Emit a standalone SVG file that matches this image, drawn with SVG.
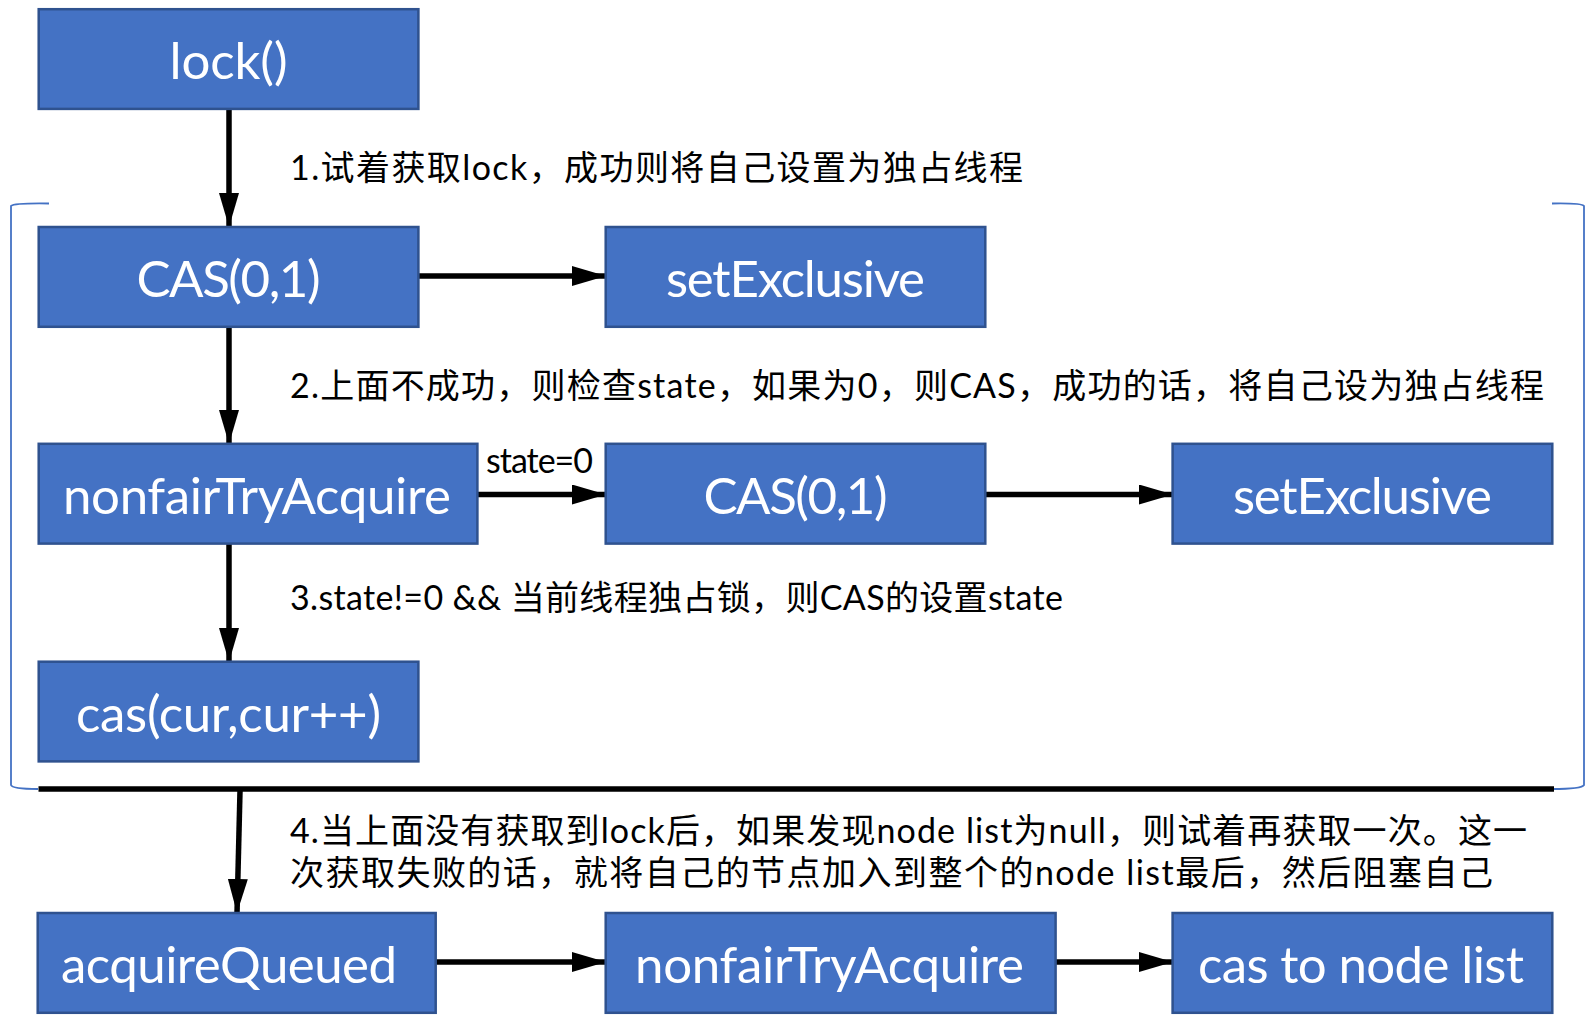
<svg xmlns="http://www.w3.org/2000/svg" width="1596" height="1028" viewBox="0 0 1596 1028">
<style>
.box{fill:#4472C4;stroke:#2F528F;stroke-width:2.5}
.nt{fill:#fff;font-family:Lato,"Noto Sans CJK SC",sans-serif;font-size:51px;text-anchor:middle;dominant-baseline:central}
.lb{fill:#000;font-family:Lato,"Noto Sans CJK SC",sans-serif;font-size:34px}
.cn{stroke:#000;stroke-width:5.5;fill:none}
.br{stroke:#4472C4;stroke-width:1.8;fill:none}
</style>
<defs>
<marker id="ah" markerUnits="userSpaceOnUse" markerWidth="34" markerHeight="20" viewBox="0 0 34 20" refX="34" refY="10" orient="auto">
<path d="M0,0 L34,10 L0,20 z" fill="#000"/>
</marker>
</defs>
<g id="bracket">
<path class="br" d="M49,203.5 Q14,203 11,206 L11,785 Q12,789 38,789"/>
<path class="br" d="M1552,203.5 Q1582,203 1584,206 L1584,785 Q1582,789 1552,789"/>
</g>
<g id="connectors">
<line class="cn" x1="229" y1="109" x2="229" y2="227" marker-end="url(#ah)"/>
<line class="cn" x1="418" y1="276" x2="606" y2="276" marker-end="url(#ah)"/>
<line class="cn" x1="229" y1="327" x2="229" y2="444" marker-end="url(#ah)"/>
<line class="cn" x1="477" y1="494.5" x2="606" y2="494.5" marker-end="url(#ah)"/>
<line class="cn" x1="985" y1="494.5" x2="1173" y2="494.5" marker-end="url(#ah)"/>
<line class="cn" x1="229" y1="544" x2="229" y2="662" marker-end="url(#ah)"/>
<line class="cn" x1="38.5" y1="789" x2="1554" y2="789"/>
<line class="cn" x1="240" y1="791" x2="237" y2="913" marker-end="url(#ah)"/>
<line class="cn" x1="436" y1="962" x2="606" y2="962" marker-end="url(#ah)"/>
<line class="cn" x1="1056" y1="962" x2="1173" y2="962" marker-end="url(#ah)"/>
<text class="lb" x="486" y="473" font-size="31" textLength="107">state=0</text>
</g>
<g id="labels">
<text class="lb" x="290" y="180" textLength="733">1.试着获取lock，成功则将自己设置为独占线程</text>
<text class="lb" x="290" y="398" textLength="1254">2.上面不成功，则检查state，如果为0，则CAS，成功的话，将自己设为独占线程</text>
<text class="lb" x="290" y="610" textLength="773">3.state!=0 &amp;&amp; 当前线程独占锁，则CAS的设置state</text>
<text class="lb" x="290" y="843" textLength="1237">4.当上面没有获取到lock后，如果发现node list为null，则试着再获取一次。这一</text>
<text class="lb" x="290" y="885" textLength="1203">次获取失败的话，就将自己的节点加入到整个的node list最后，然后阻塞自己</text>
</g>
<g id="n-lock"><rect class="box" x="38.7" y="9.2" width="379.7" height="99.7"/><text class="nt" x="228.5" y="59" textLength="118">lock()</text></g>
<g id="n-cas1"><rect class="box" x="38.7" y="227" width="379.7" height="99.8"/><text class="nt" x="228.5" y="277" textLength="184">CAS(0,1)</text></g>
<g id="n-setex1"><rect class="box" x="605.7" y="227" width="379.6" height="99.8"/><text class="nt" x="795.5" y="277" textLength="259">setExclusive</text></g>
<g id="n-nonfair1"><rect class="box" x="38.7" y="443.8" width="438.7" height="99.8"/><text class="nt" x="257" y="494" textLength="388">nonfairTryAcquire</text></g>
<g id="n-cas2"><rect class="box" x="605.7" y="443.8" width="379.6" height="99.8"/><text class="nt" x="795.5" y="494" textLength="184">CAS(0,1)</text></g>
<g id="n-setex2"><rect class="box" x="1172.6" y="443.8" width="379.7" height="99.8"/><text class="nt" x="1362.5" y="494" textLength="259">setExclusive</text></g>
<g id="n-cascur"><rect class="box" x="38.7" y="661.7" width="379.7" height="99.7"/><text class="nt" x="228.5" y="712" textLength="305">cas(cur,cur++)</text></g>
<g id="n-acq"><rect class="box" x="37.7" y="913" width="398" height="99.8"/><text class="nt" x="229" y="963" textLength="336">acquireQueued</text></g>
<g id="n-nonfair2"><rect class="box" x="605.7" y="913" width="449.9" height="99.8"/><text class="nt" x="829.5" y="963" textLength="389">nonfairTryAcquire</text></g>
<g id="n-casnode"><rect class="box" x="1172.6" y="913" width="379.7" height="99.8"/><text class="nt" x="1361" y="963" textLength="326">cas to node list</text></g>
</svg>
